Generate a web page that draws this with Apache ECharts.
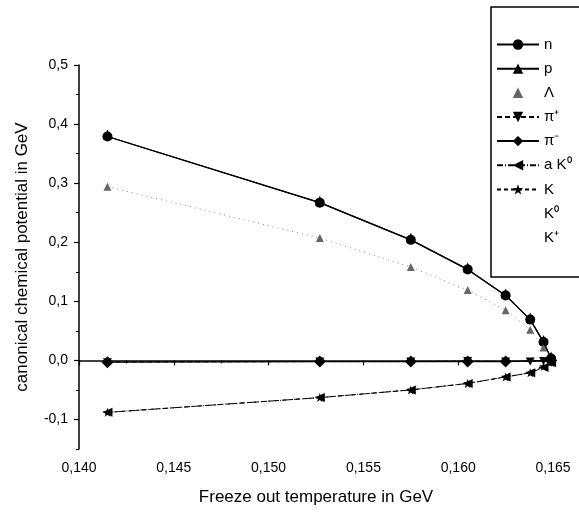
<!DOCTYPE html>
<html>
<head>
<meta charset="utf-8">
<script src="https://cdn.jsdelivr.net/npm/echarts@6/dist/echarts.min.js"></script>
<style>
  html, body { margin: 0; padding: 0; background: #fff; }
  #chart { width: 579px; height: 513px; }
</style>
</head>
<body>
<div id="chart"></div>
<script>
// Freeze-out temperatures (GeV)
const temperatures = [0.1415, 0.1527, 0.1575, 0.1605, 0.1625, 0.1638, 0.1645, 0.1649];

// Canonical chemical potentials (GeV), one value per temperature (null = no point)
const muN      = [0.379, 0.267, 0.204, 0.154, 0.110, 0.069, 0.031, 0.003];
const muP      = [0.379, 0.267, 0.204, 0.154, 0.110, 0.069, 0.031, 0.003];
const muLambda = [0.294, 0.207, 0.158, 0.119, 0.085, 0.052, 0.022, 0.002];
const muPiPlus = [-0.003, -0.002, -0.002, -0.001, -0.002, -0.002, -0.001, 0.000];
const muPiMinus= [-0.003, -0.002, -0.002, -0.002, -0.002, null, null, 0.000];
const muAK0    = [-0.088, -0.063, -0.050, -0.039, -0.028, -0.021, -0.012, -0.004];
const muK      = [-0.088, -0.063, -0.050, -0.039, -0.028, -0.021, -0.010, -0.003];
const muK0     = [];
const muKPlus  = [];

// Axis tick values
const xTicks = [0.140, 0.145, 0.150, 0.155, 0.160, 0.165];
const yTicks = [-0.1, 0.0, 0.1, 0.2, 0.3, 0.4, 0.5];
const yMinorTicks = [-0.15, -0.05, 0.05, 0.15, 0.25, 0.35, 0.45];

const seriesNames = ['n', 'p', 'Λ', 'π⁺', 'π⁻', 'a K⁰', 'K', 'K⁰', 'K⁺'];

function pairs(values) {
  const out = [];
  values.forEach((v, i) => { if (v !== null && v !== undefined) out.push([temperatures[i], v]); });
  return out;
}

const star = 'path://M0,-10 L2.35,-3.24 L9.51,-3.09 L3.8,1.24 L5.88,8.09 L0,4 L-5.88,8.09 L-3.8,1.24 L-9.51,-3.09 L-2.35,-3.24 Z';
const comma = v => v.toFixed(3).replace('.', ',');
const comma1 = v => (Math.abs(v) < 1e-9 ? 0 : v).toFixed(1).replace('.', ',');

const font = 'Liberation Sans, Arial, sans-serif';

const chart = echarts.init(document.getElementById('chart'));
chart.setOption({
  animation: false,
  backgroundColor: '#fff',
  grid: { left: 79, right: 26, top: 65, bottom: 64 },
  xAxis: {
    type: 'value',
    min: 0.140, max: 0.165, interval: 0.005,
    name: 'Freeze out temperature in GeV',
    nameLocation: 'middle', nameGap: 40,
    nameTextStyle: { fontFamily: font, fontSize: 17, color: '#000' },
    axisLine: { show: true, lineStyle: { color: '#000', width: 1.5 } },
    axisTick: { show: true, inside: false, length: 5, lineStyle: { color: '#000', width: 1.2 } },
    minorTick: { show: true, splitNumber: 2, length: 3, lineStyle: { color: '#000', width: 1 } },
    axisLabel: { formatter: comma, fontFamily: font, fontSize: 14, color: '#000', margin: 12,
                 customValues: xTicks },
    splitLine: { show: false }
  },
  yAxis: [{
    type: 'value',
    min: -0.15, max: 0.5,
    position: 'left',
    name: 'canonical chemical potential in GeV',
    nameLocation: 'middle', nameGap: 48,
    nameTextStyle: { fontFamily: font, fontSize: 17, color: '#000' },
    axisLine: { show: true, lineStyle: { color: '#000', width: 1.5 } },
    axisTick: { show: true, inside: false, length: 5, customValues: yTicks,
                lineStyle: { color: '#000', width: 1.2 } },
    axisLabel: { formatter: comma1, fontFamily: font, fontSize: 14, color: '#000', margin: 11,
                 customValues: yTicks },
    splitLine: { show: false }
  }, {
    type: 'value',
    min: -0.15, max: 0.5,
    position: 'left',
    axisLine: { show: false },
    axisTick: { show: true, inside: false, length: 3, customValues: yMinorTicks,
                lineStyle: { color: '#000', width: 1 } },
    axisLabel: { show: false },
    splitLine: { show: false }
  }],
  legend: {
    data: seriesNames.map(n => n === 'Λ' ? { name: n, lineStyle: { opacity: 0 } } : n),
    orient: 'vertical',
    left: 496, top: 37,
    padding: 0,
    itemWidth: 42, itemHeight: 13, itemGap: 9.15,
    symbolRotate: 'inherit',
    textStyle: { fontFamily: font, fontSize: 15, color: '#000' }
  },
  graphic: [{
    type: 'rect',
    shape: { x: 491, y: 7, width: 110, height: 270 },
    style: { fill: 'none', stroke: '#000', lineWidth: 1.5 },
    z: 100
  }],
  series: [
    { name: 'n', type: 'line', data: pairs(muN), symbol: 'circle', symbolSize: 10,
      itemStyle: { color: '#000' }, lineStyle: { color: '#000', width: 1.2 }, z: 3 },
    { name: 'p', type: 'line', data: pairs(muP), symbol: 'triangle', symbolSize: [9, 10], symbolOffset: [0, -2],
      itemStyle: { color: '#000' }, lineStyle: { color: '#000', width: 1.2 }, z: 4 },
    { name: 'Λ', type: 'line', data: pairs(muLambda), symbol: 'triangle', symbolSize: [8, 8],
      itemStyle: { color: '#666' }, lineStyle: { color: '#888', width: 1, type: [1, 4] }, z: 3 },
    { name: 'π⁺', type: 'line', data: pairs(muPiPlus), symbol: 'triangle', symbolRotate: 180, symbolSize: [9, 8],
      itemStyle: { color: '#000' }, lineStyle: { color: '#000', width: 1, type: [5, 3] }, z: 2 },
    { name: 'π⁻', type: 'line', data: pairs(muPiMinus), symbol: 'diamond', symbolSize: [12, 12],
      itemStyle: { color: '#000' }, lineStyle: { color: '#000', width: 1.2 }, z: 3 },
    { name: 'K', type: 'line', data: pairs(muK), symbol: star, symbolSize: 9,
      itemStyle: { color: '#000' }, lineStyle: { color: '#000', width: 1, type: [4, 3] }, z: 2 },
    { name: 'a K⁰', type: 'line', data: pairs(muAK0), symbol: 'triangle', symbolRotate: 90, symbolSize: [9, 10],
      itemStyle: { color: '#000' }, lineStyle: { color: '#000', width: 1, type: [6, 2, 1, 2] }, z: 3 },
    { name: 'K⁰', type: 'line', data: muK0, symbol: 'none',
      itemStyle: { color: '#000', opacity: 0 }, lineStyle: { width: 0, opacity: 0 } },
    { name: 'K⁺', type: 'line', data: muKPlus, symbol: 'none',
      itemStyle: { color: '#000', opacity: 0 }, lineStyle: { width: 0, opacity: 0 } }
  ]
});
</script>
</body>
</html>
